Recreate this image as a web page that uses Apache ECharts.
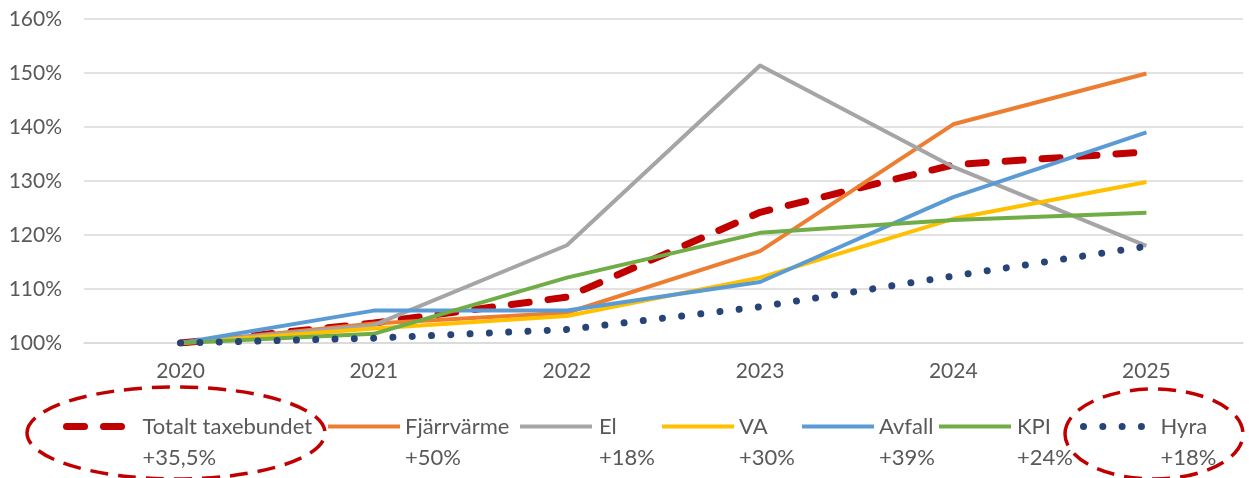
<!DOCTYPE html>
<html><head><meta charset="utf-8">
<script src="https://cdn.jsdelivr.net/npm/echarts@6/dist/echarts.min.js"></script>
<style>html,body{margin:0;padding:0;background:#fff}#c{width:1249px;height:478px}</style>
</head><body><div id="c"></div>
<script>
const years = ['2020','2021','2022','2023','2024','2025'];
const seriesNames = ['Totalt taxebundet','Fjärrvärme','El','VA','Avfall','KPI','Hyra'];
const changeLabels = ['+35,5%','+50%','+18%','+30%','+39%','+24%','+18%'];
const totalt = [100, 103.7, 108.5, 124.2, 133.0, 135.4];
const fjarrvarme = [100, 103.6, 105.6, 117.0, 140.5, 149.9];
const el = [100, 103.3, 118.1, 151.4, 132.6, 118.0];
const va = [100, 102.7, 105.0, 112.1, 123.0, 129.8];
const avfall = [100, 106.0, 106.0, 111.3, 127.0, 139.0];
const kpi = [100, 101.7, 112.1, 120.4, 122.8, 124.1];
const hyra = [100, 100.9, 102.5, 106.7, 112.4, 117.9];
const yTicks = {min: 100, max: 160, interval: 10};

const colors = ['#C00000','#ED7D31','#A5A5A5','#FFC000','#5B9BD5','#70AD47','#264478'];
const values = [totalt, fjarrvarme, el, va, avfall, kpi, hyra];
const font = 'Lato';
const txt = '#595959';

const styles = [
  {width: 7, type: [18, 19], cap: 'round'},
  {width: 4},
  {width: 4},
  {width: 4},
  {width: 4},
  {width: 4},
  {width: 7, type: [0.01, 19.3], cap: 'round'}
];

const legendLeft = [63, 326, 518, 660, 800, 937, 1080];
const legendW = [60, 72, 72, 72, 72, 72, 62];
const legendPad = [11, 0, 2, 0, 0, 1, 10];

const chart = echarts.init(document.getElementById('c'), null, {renderer: 'canvas'});
const option = {
  animation: false,
  backgroundColor: '#fff',
  grid: {left: 84, right: 6, top: 19, bottom: 135, containLabel: false},
  xAxis: {
    type: 'category', data: years, boundaryGap: true,
    axisLine: {show: true, lineStyle: {color: '#d9d9d9', width: 1.5}},
    axisTick: {show: false},
    axisLabel: {color: txt, fontFamily: font, fontSize: 21, margin: 18}
  },
  yAxis: {
    type: 'value', min: yTicks.min, max: yTicks.max, interval: yTicks.interval,
    axisLine: {show: false}, axisTick: {show: false},
    splitLine: {lineStyle: {color: '#d9d9d9', width: 1.5}},
    axisLabel: {color: txt, fontFamily: font, fontSize: 21, margin: 22, formatter: v => v + '%'}
  },
  legend: seriesNames.map((n, i) => ({
    data: [n], left: legendLeft[i], top: 380, padding: 0,
    itemWidth: legendW[i], itemHeight: 14,
    selectedMode: false,
    itemStyle: {opacity: 0},
    lineStyle: Object.assign({color: colors[i]}, styles[i]),
    formatter: name => '\n' + name + '\n' + changeLabels[i],
    textStyle: {color: txt, fontFamily: font, fontSize: 22, lineHeight: 31, padding: [0, 0, 0, legendPad[i]]}
  })),
  series: seriesNames.map((n, i) => ({
    name: n, type: 'line', data: values[i], symbol: 'none', showSymbol: false,
    color: colors[i],
    lineStyle: Object.assign({color: colors[i], join: 'round'}, styles[i]),
    z: 2
  })),
  graphic: [
    {type: 'ellipse', shape: {cx: 176, cy: 433, rx: 149, ry: 46}, style: {fill: 'none', stroke: '#C00000', lineWidth: 3.5, lineDash: [18, 10]}},
    {type: 'ellipse', shape: {cx: 1154, cy: 434, rx: 89, ry: 45}, style: {fill: 'none', stroke: '#C00000', lineWidth: 3.5, lineDash: [18, 10]}}
  ]
};
chart.setOption(option);
</script></body></html>
